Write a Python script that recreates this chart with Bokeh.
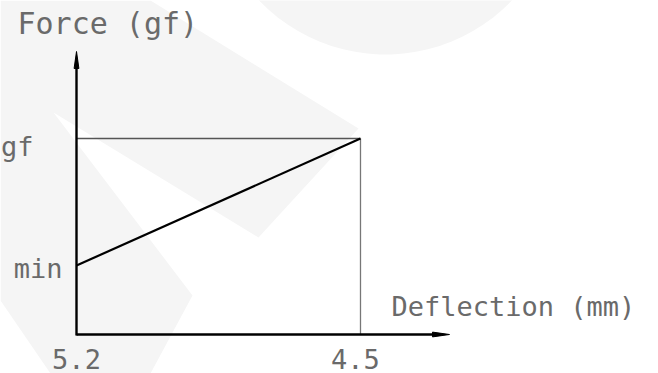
from bokeh.plotting import figure
from bokeh.models import Range1d, PolyAnnotation
from bokeh.core.properties import value
from bokeh.embed import file_html
from bokeh.resources import INLINE
import math

# ---- data ----
deflection = [5.2, 4.5]          # mm (axis runs from 5.2 down to 4.5)
force = [0.352, 1.0]             # relative force: min ... max
x_tick_labels = ["5.2", "4.5"]
y_tick_labels = ["min", "gf"]
x_title = "Deflection (mm)"
y_title = "Force (gf)"

# ---- layout ----
W, H = 658, 373
PX_PER_MM = 405.7
PX_PER_F = 196.0
X_LEFT_PAD = 76      # px from frame left to 5.2
Y_BOTTOM_PAD = 39    # px from frame bottom to force 0

x_start = deflection[0] + X_LEFT_PAD / PX_PER_MM
x_end = x_start - W / PX_PER_MM
y_start = -Y_BOTTOM_PAD / PX_PER_F
y_end = y_start + H / PX_PER_F

def fx(px):   # frame pixel (from left) -> data x
    return x_start - px / PX_PER_MM

def fy(py):   # frame pixel (from top) -> data y
    return y_end - py / PX_PER_F

p = figure(width=W, height=H, output_backend="svg", toolbar_location=None,
           x_range=Range1d(x_start, x_end), y_range=Range1d(y_start, y_end),
           min_border=0, outline_line_color=None, background_fill_color="white",
           border_fill_color="white")
p.axis.visible = False
p.grid.visible = False

# ---- faint watermark in background ----
wm = "#f5f5f5"
poly = [(0, 0), (150, 0), (358, 128), (258, 237), (53, 112), (192, 295),
        (150, 373), (50, 373), (0, 300)]
p.add_layout(PolyAnnotation(xs=[fx(a) for a, b in poly], ys=[fy(b) for a, b in poly],
                            fill_color=wm, fill_alpha=1, line_color=None, level="underlay"))
cx, cy, r = 385, -121, 175
circ = [(cx + r * math.cos(t / 90 * 2 * math.pi), cy + r * math.sin(t / 90 * 2 * math.pi)) for t in range(90)]
p.add_layout(PolyAnnotation(xs=[fx(a) for a, b in circ], ys=[fy(b) for a, b in circ],
                            fill_color=wm, fill_alpha=1, line_color=None, level="underlay"))

# ---- axis extents ----
X_TIP = deflection[1] - 89 / PX_PER_MM
Y_TIP = force[1] + 87 / PX_PER_F
x0 = deflection[0]

# max level reference lines (thin grey)
p.line([x0, deflection[1]], [force[1], force[1]], line_color="#555555", line_width=1.3)
p.line([deflection[1], deflection[1]], [0, force[1]], line_color="#777777", line_width=1.3)

# force-deflection characteristic
p.line(deflection, force, line_color="black", line_width=2.2)

# axes with arrow heads
p.line([x0, x0], [-1 / PX_PER_F, Y_TIP - 8 / PX_PER_F], line_color="black", line_width=2.4)
p.line([x0, X_TIP + 8 / PX_PER_MM], [0, 0], line_color="black", line_width=2.4)
hw_x = 2.4 / PX_PER_MM
hl_y = 17 / PX_PER_F
p.patch([x0 - hw_x, x0, x0 + hw_x], [Y_TIP - hl_y, Y_TIP, Y_TIP - hl_y], color="black")
hw_y = 2.4 / PX_PER_F
hl_x = 17 / PX_PER_MM
p.patch([X_TIP + hl_x, X_TIP, X_TIP + hl_x], [-hw_y, 0, hw_y], color="black")

FONT = value("DejaVu Sans Mono")
TC = "#6a6a6a"

# x tick labels
p.text(x=deflection, y=[0, 0], text=x_tick_labels, x_offset=[0, -5], y_offset=24,
       text_align="center", text_baseline="alphabetic", text_font=FONT,
       text_font_size="27px", text_color=TC)
# y tick labels
p.text(x=[x0, x0], y=force, text=y_tick_labels, x_offset=[-14, -43], y_offset=[3, 8],
       text_align="right", text_baseline="alphabetic", text_font=FONT,
       text_font_size="27px", text_color=TC)
# axis titles
p.text(x=[deflection[1]], y=[0], text=[x_title], x_offset=31, y_offset=-28,
       text_align="left", text_baseline="alphabetic", text_font=FONT,
       text_font_size="27px", text_color=TC)
p.text(x=[x0], y=[Y_TIP], text=[y_title], x_offset=-59, y_offset=-28,
       text_align="left", text_baseline="alphabetic", text_font=FONT,
       text_font_size="30px", text_color=TC)

open("out.html", "w").write(file_html(p, INLINE))
